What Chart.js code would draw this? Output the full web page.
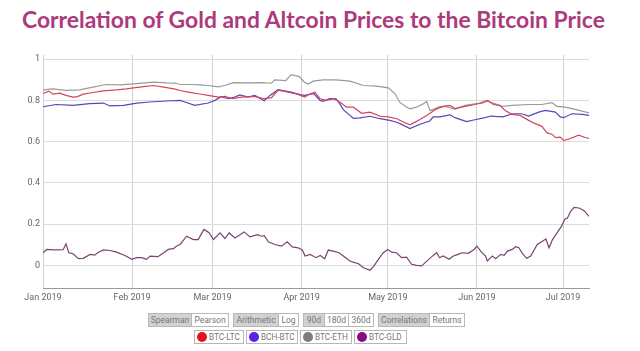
<!DOCTYPE html>
<html>
<head>
<meta charset="utf-8">
<script src="https://cdn.jsdelivr.net/npm/chart.js@4/dist/chart.umd.min.js"></script>
<style>
  html, body { margin: 0; padding: 0; background: #fff; width: 640px; height: 351px; overflow: hidden; }
  #title { position: absolute; left: 22px; top: 5px; white-space: nowrap; font-family: Lato, "Open Sans", sans-serif; font-weight: 700; color: #ad3a7c; font-size: 22px; }
  #wrap { position: absolute; left: 0; top: 0; width: 640px; height: 305px; }
  .grp { position: absolute; top: 313px; height: 14px; display: flex; border: 1px solid #b8b8b8; box-sizing: border-box; }
  .grp span { display: block; height: 12px; line-height: 12px; font-family: Roboto, "Liberation Sans", sans-serif; font-size: 8.5px; color: #777; text-align: center; border-left: 1px solid #b8b8b8; box-sizing: border-box; background: #fff; white-space: nowrap; overflow: hidden; }
  .grp span:first-child { border-left: none; }
  .grp span.on { background: #d2d2d2; }
  .leg { position: absolute; top: 330px; height: 14px; border: 1px solid #b8b8b8; box-sizing: border-box; font-family: Roboto, "Liberation Sans", sans-serif; font-size: 8.2px; color: #777; line-height: 12px; white-space: nowrap; overflow: hidden; }
  .leg i { display: inline-block; width: 10px; height: 10px; border-radius: 50%; vertical-align: middle; margin: 0 2px 0 2px; position: relative; top: -1px; }
</style>
</head>
<body>
<div id="title">Correlation of Gold and Altcoin Prices to the Bitcoin Price</div>
<div id="wrap"><canvas id="c" width="640" height="305"></canvas></div>
<div id="controls"></div>
<script>
// ---- tick labels (day index from 1 Jan 2019) ----
const monthTickDays = [0, 31, 59, 90, 120, 151, 181];
const monthTickLabels = ['Jan 2019', 'Feb 2019', 'Mar 2019', 'Apr 2019', 'May 2019', 'Jun 2019', 'Jul 2019'];
const yTickValues = [0, 0.2, 0.4, 0.6, 0.8, 1];

// ---- series names ----
const seriesNames = ['BTC-LTC', 'BCH-BTC', 'BTC-ETH', 'BTC-GLD'];

// ---- BTC-LTC ----
const ltcDays = [0,2,3.5,5.8,8,10.4,12,14,17.4,21,25.6,29,31.5,35,38.5,42,45.6,47.7,50.5,54.6,57.5,61,63.3,66.2,69,73.7,77,79.5,81.8,85.3,88.5,91,93,94.6,96.4,98.7,101,103.3,105.6,108,110.9,113.8,117.3,120.2,123.1,125.4,127.7,130,133.5,137,139.3,141.6,143.4,146.9,150.3,152,154.7,156.7,159,160.8,163.2,166,169,171.3,173.6,175.4,177.1,178.3,180,181.2,183.5,186.4,188.7,190];
const ltcValues = [0.833,0.845,0.83,0.835,0.824,0.816,0.818,0.83,0.838,0.846,0.851,0.856,0.861,0.867,0.872,0.864,0.856,0.848,0.84,0.831,0.824,0.816,0.819,0.808,0.816,0.819,0.808,0.813,0.849,0.84,0.83,0.816,0.832,0.84,0.808,0.8,0.808,0.792,0.767,0.767,0.737,0.743,0.723,0.72,0.711,0.695,0.681,0.698,0.727,0.759,0.771,0.776,0.76,0.771,0.78,0.787,0.8,0.78,0.776,0.751,0.732,0.727,0.703,0.687,0.674,0.642,0.636,0.62,0.622,0.605,0.615,0.631,0.62,0.616];

// ---- BCH-BTC ----
const bchDays = [0,4.6,10.4,16.2,21,23.3,28,32.6,37,43,47.7,49.4,52.8,57.5,59.8,62,64.5,66.7,68.5,71.4,73.7,77,79,81.8,86.3,89.5,91,94.3,96.4,97.5,99.8,102,103.3,104.5,106.8,108,110.3,113.8,117.3,120.7,122.8,124.2,127.7,131.2,134.6,135.8,138.1,141.6,143.4,147.4,150.3,153.8,155.9,157.4,160,163.5,166.6,169,172.5,174.8,178.3,180,181.2,184,187.6,190];
const bchValues = [0.769,0.78,0.776,0.784,0.787,0.773,0.776,0.787,0.792,0.797,0.8,0.792,0.776,0.787,0.8,0.818,0.808,0.816,0.826,0.816,0.824,0.798,0.824,0.852,0.84,0.828,0.824,0.832,0.8,0.795,0.808,0.807,0.783,0.755,0.727,0.713,0.715,0.723,0.711,0.703,0.695,0.687,0.663,0.684,0.7,0.72,0.72,0.73,0.716,0.697,0.706,0.716,0.724,0.722,0.72,0.735,0.735,0.724,0.743,0.751,0.743,0.72,0.716,0.735,0.732,0.727];

// ---- BTC-ETH ----
const ethDays = [0,3.5,8,12.7,17.4,22,27,31.5,38.5,43,46,47.7,51.7,54.6,57.5,61,63.3,66.2,71.4,76,79.5,80.6,84.5,86.3,89.2,91,92.3,94,97.5,102,106.8,111.5,116,120.2,122.5,124.2,126.6,127.7,130,132.3,133.5,134.7,136.5,138,140,143.4,146.9,150.3,152.7,154.4,157.4,159.7,163.2,169,173.6,177.1,178.8,181.7,185.2,190];
const ethValues = [0.851,0.856,0.848,0.851,0.864,0.877,0.875,0.88,0.888,0.885,0.884,0.877,0.877,0.875,0.872,0.865,0.872,0.886,0.885,0.886,0.883,0.899,0.896,0.925,0.915,0.888,0.879,0.893,0.899,0.899,0.893,0.872,0.869,0.861,0.832,0.79,0.767,0.759,0.767,0.783,0.795,0.75,0.76,0.77,0.771,0.758,0.776,0.783,0.785,0.796,0.783,0.771,0.776,0.78,0.78,0.789,0.771,0.767,0.756,0.739];

// ---- BTC-GLD ----
const gldDays = [0,1.3,4,7,8,9,10.5,12.3,14,16.4,18,19,21,23.3,25.6,28.5,30.9,32.6,34.4,36,37.3,40,42,43.6,45.4,46.5,47.7,50,52.3,54,56,57.8,59.3,61.6,63.3,64.8,66.8,70,72,74.7,76,77,78.4,80.7,83,85,86.7,88.8,90.3,91.2,93,95,96.5,98,99.3,101,103,104.5,106.8,108.5,109.7,111.5,113.8,115,116.7,118.4,120,121.3,123,124.8,126.5,128.3,130,131.8,133,135.8,137,138,139.3,141.3,142.8,144.5,145.7,148,150,151,152.3,154,154.6,156.4,157.5,159.3,160.5,161.6,163.3,164.5,165.6,166.8,168.3,169.7,172,173.8,175,176.1,177.3,179,180.4,181.6,182.5,183.6,184.8,186.5,188.3,190];
const gldValues = [0.061,0.077,0.075,0.076,0.104,0.061,0.056,0.032,0.034,0.053,0.049,0.061,0.075,0.072,0.064,0.048,0.029,0.037,0.037,0.029,0.045,0.042,0.061,0.077,0.081,0.094,0.101,0.141,0.125,0.125,0.174,0.158,0.125,0.157,0.13,0.157,0.133,0.162,0.138,0.149,0.141,0.144,0.114,0.101,0.093,0.114,0.089,0.085,0.073,0.045,0.053,0.037,0.048,0.032,0.074,0.069,0.061,0.045,0.021,0.013,0.009,-0.012,-0.024,-0.006,0.029,0.061,0.077,0.064,0.061,0.037,0.04,0.005,0.0,-0.003,0.013,0.048,0.061,0.037,0.045,0.029,0.045,0.053,0.061,0.058,0.077,0.093,0.069,0.045,0.021,0.045,0.032,0.053,0.048,0.069,0.077,0.09,0.085,0.058,0.034,0.045,0.101,0.117,0.128,0.085,0.125,0.16,0.189,0.224,0.229,0.262,0.281,0.278,0.265,0.237];

const lineColors = ['#d4455a', '#5a45b5', '#9a9a9a', '#7a4470'];
const legendColors = ['#e8141c', '#5a24e2', '#7c7c7c', '#8a0a86'];

const seriesDays = [ltcDays, bchDays, ethDays, gldDays];
const seriesValues = [ltcValues, bchValues, ethValues, gldValues];

// fit the title to its width
(function(){
  const t = document.getElementById('title');
  const target = 583;
  const w = t.getBoundingClientRect().width;
  t.style.fontSize = (22 * target / w).toFixed(2) + 'px';
})();

const datasets = seriesNames.map((name, i) => ({
  label: name,
  data: seriesDays[i].map((d, k) => ({ x: d, y: seriesValues[i][k] })),
  borderColor: lineColors[i],
  backgroundColor: lineColors[i],
  borderWidth: 1.2,
  pointRadius: 0,
  tension: 0,
  fill: false
}));

new Chart(document.getElementById('c'), {
  type: 'line',
  data: { datasets },
  options: {
    responsive: false,
    animation: false,
    layout: { padding: { top: 55, right: 51, left: 0, bottom: 0 } },
    plugins: { legend: { display: false }, tooltip: { enabled: false }, title: { display: false } },
    scales: {
      x: {
        type: 'linear', min: 0, max: 190,
        afterBuildTicks: s => { s.ticks = monthTickDays.map(v => ({ value: v })); },
        afterFit: s => { s.height = 17; },
        ticks: {
          autoSkip: false, maxRotation: 0, padding: 4,
          color: '#666', font: { family: 'Roboto, "Liberation Sans", sans-serif', size: 9 },
          callback: v => monthTickLabels[monthTickDays.indexOf(v)]
        },
        grid: { color: '#d0d0d0', drawTicks: false, lineWidth: 1 },
        border: { display: true, color: '#9a9a9a', width: 1 }
      },
      y: {
        type: 'linear', min: -0.11, max: 1.02,
        afterBuildTicks: s => { s.ticks = yTickValues.map(v => ({ value: v })); },
        afterFit: s => { s.width = 43; },
        ticks: {
          padding: 3, color: '#666', font: { family: 'Roboto, "Liberation Sans", sans-serif', size: 9 },
          callback: v => String(Math.round(v * 10) / 10)
        },
        grid: { color: '#dcdcdc', drawTicks: false, lineWidth: 1 },
        border: { display: false }
      }
    }
  }
});

// control buttons and legend
const groups = [
  { left: 148, items: [['Spearman', 42, true], ['Pearson', 37, false]] },
  { left: 233, items: [['Arithmetic', 44, true], ['Log', 20, false]] },
  { left: 303, items: [['90d', 20, true], ['180d', 24, false], ['360d', 25, false]] },
  { left: 378, items: [['Correlations', 50, true], ['Returns', 35, false]] }
];
const legendLefts = [194, 246, 300, 354];
const legendWidths = [50, 52, 52, 53];
const ctl = document.getElementById('controls');
let html = '';
groups.forEach(g => {
  html += '<div class="grp" style="left:' + g.left + 'px">' +
    g.items.map(it => '<span class="' + (it[2] ? 'on' : '') + '" style="width:' + it[1] + 'px">' + it[0] + '</span>').join('') + '</div>';
});
seriesNames.forEach((n, i) => {
  html += '<div class="leg" style="left:' + legendLefts[i] + 'px;width:' + legendWidths[i] + 'px"><i style="background:' + legendColors[i] + '"></i>' + n + '</div>';
});
ctl.innerHTML = html;
</script>
</body>
</html>
